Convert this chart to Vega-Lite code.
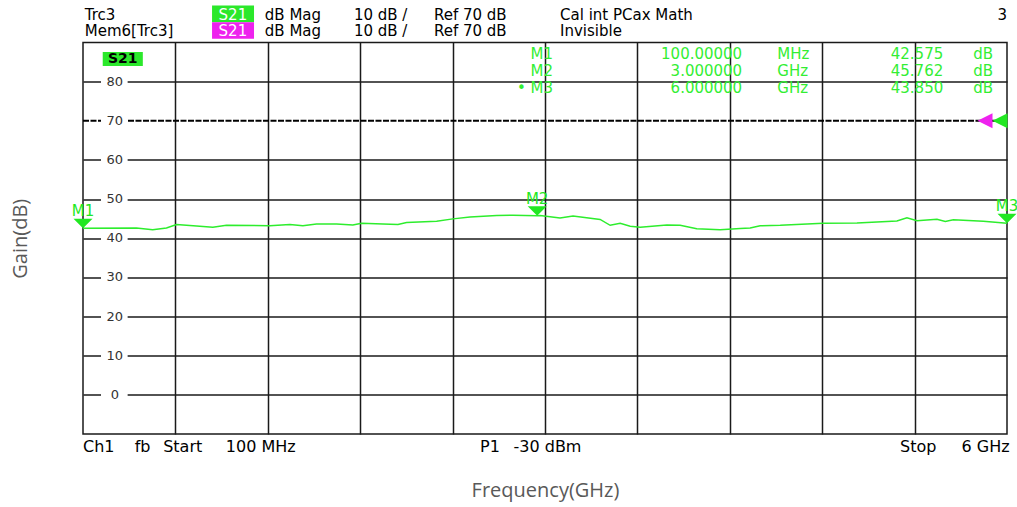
{
  "$schema": "https://vega.github.io/schema/vega-lite/v6.json",
  "width": 924,
  "height": 391.5,
  "autosize": "none",
  "padding": {"left": 83, "top": 42.5, "right": 10, "bottom": 73},
  "background": "white",
  "config": {"view": {"stroke": "#1a1a1a", "strokeWidth": 1.5}, "font": "DejaVu Sans"},
  "datasets": {
    "trace": [
      {"freq": 0.1, "gain": 42.575}, {"freq": 0.441, "gain": 42.6}, {"freq": 0.545, "gain": 42.2},
      {"freq": 0.633, "gain": 42.6}, {"freq": 0.697, "gain": 43.5}, {"freq": 0.825, "gain": 43.1},
      {"freq": 0.929, "gain": 42.8}, {"freq": 1.016, "gain": 43.3}, {"freq": 1.293, "gain": 43.2},
      {"freq": 1.421, "gain": 43.5}, {"freq": 1.504, "gain": 43.2}, {"freq": 1.591, "gain": 43.65},
      {"freq": 1.719, "gain": 43.65}, {"freq": 1.823, "gain": 43.4}, {"freq": 1.879, "gain": 43.8},
      {"freq": 2.015, "gain": 43.65}, {"freq": 2.111, "gain": 43.5}, {"freq": 2.166, "gain": 44.0},
      {"freq": 2.358, "gain": 44.35}, {"freq": 2.462, "gain": 44.95}, {"freq": 2.571, "gain": 45.4},
      {"freq": 2.742, "gain": 45.8}, {"freq": 2.846, "gain": 45.9}, {"freq": 3.0, "gain": 45.762},
      {"freq": 3.018, "gain": 45.8}, {"freq": 3.146, "gain": 45.2}, {"freq": 3.229, "gain": 45.65},
      {"freq": 3.402, "gain": 44.8}, {"freq": 3.466, "gain": 43.3}, {"freq": 3.53, "gain": 43.8},
      {"freq": 3.594, "gain": 43.05}, {"freq": 3.658, "gain": 42.8}, {"freq": 3.828, "gain": 43.4},
      {"freq": 3.913, "gain": 43.3}, {"freq": 4.019, "gain": 42.4}, {"freq": 4.168, "gain": 42.2},
      {"freq": 4.296, "gain": 42.5}, {"freq": 4.36, "gain": 42.6}, {"freq": 4.424, "gain": 43.2},
      {"freq": 4.552, "gain": 43.3}, {"freq": 4.826, "gain": 43.8}, {"freq": 5.042, "gain": 43.9},
      {"freq": 5.297, "gain": 44.4}, {"freq": 5.361, "gain": 45.2}, {"freq": 5.425, "gain": 44.5},
      {"freq": 5.553, "gain": 44.85}, {"freq": 5.606, "gain": 44.3}, {"freq": 5.657, "gain": 44.7},
      {"freq": 5.849, "gain": 44.35}, {"freq": 6.0, "gain": 43.85}
    ],
    "markers": [
      {"marker": "M1", "freq": 0.1, "gain": 42.575},
      {"marker": "M2", "freq": 3.0, "gain": 45.762},
      {"marker": "M3", "freq": 6.0, "gain": 43.85}
    ],
    "ticks": [
      {"gain": 0}, {"gain": 10}, {"gain": 20}, {"gain": 30}, {"gain": 40},
      {"gain": 50}, {"gain": 60}, {"gain": 70}, {"gain": 80}
    ]
  },
  "data": {"values": [{"note": "annotation"}]},
  "layer": [
    {
      "mark": {"type": "rule", "color": "#000000", "strokeWidth": 2, "strokeDash": [6, 1.5]},
      "encoding": {
        "x": {"datum": 0.1, "type": "quantitative",
          "scale": {"domain": [0.1, 6.0], "nice": false, "zero": false},
          "axis": {"values": [0.69, 1.28, 1.87, 2.46, 3.05, 3.64, 4.23, 4.82, 5.41],
            "grid": true, "gridColor": "#1a1a1a", "gridWidth": 1.5, "gridOpacity": 1,
            "labels": false, "ticks": false, "domain": false,
            "title": "Frequency(GHz)", "titleFont": "Open Sans", "titleFontSize": 20,
            "titleFontWeight": "normal", "titleColor": "#595959", "titlePadding": 46}},
        "x2": {"datum": 6.0},
        "y": {"datum": 70, "type": "quantitative",
          "scale": {"domain": [-10, 90], "nice": false, "zero": false},
          "axis": {"values": [0, 10, 20, 30, 40, 50, 60, 80],
            "grid": true, "gridColor": "#1a1a1a", "gridWidth": 1.5, "gridOpacity": 1,
            "labels": false, "ticks": false, "domain": false,
            "title": "Gain(dB)", "titleFont": "Open Sans", "titleFontSize": 20,
            "titleFontWeight": "normal", "titleColor": "#595959", "titlePadding": 53}}
      }
    },
    {
      "data": {"name": "ticks"},
      "mark": {"type": "rule", "color": "white", "strokeWidth": 5},
      "encoding": {
        "x": {"datum": 0.215, "type": "quantitative"},
        "x2": {"datum": 0.385},
        "y": {"field": "gain", "type": "quantitative", "title": "Gain(dB)"}
      }
    },
    {
      "data": {"name": "ticks"},
      "mark": {"type": "text", "font": "DejaVu Sans", "fontSize": 13, "color": "#333333", "align": "center", "baseline": "middle"},
      "encoding": {
        "x": {"datum": 0.303, "type": "quantitative"},
        "y": {"field": "gain", "type": "quantitative", "title": "Gain(dB)"},
        "text": {"field": "gain", "type": "quantitative"}
      }
    },
    {
      "mark": {"type": "rect", "color": "#2be82b"},
      "encoding": {
        "x": {"datum": 0.226, "type": "quantitative"}, "x2": {"datum": 0.482},
        "y": {"datum": 87.57, "type": "quantitative"}, "y2": {"datum": 84.0}
      }
    },
    {
      "mark": {"type": "text", "text": "S21", "fontSize": 14, "fontWeight": "bold", "color": "#000000", "align": "center", "baseline": "middle"},
      "encoding": {
        "x": {"datum": 0.354, "type": "quantitative"},
        "y": {"datum": 85.8, "type": "quantitative"}
      }
    },
    {
      "data": {"name": "trace"},
      "mark": {"type": "line", "color": "#2ded2d", "strokeWidth": 1.5},
      "encoding": {
        "x": {"field": "freq", "type": "quantitative", "title": "Frequency(GHz)"},
        "y": {"field": "gain", "type": "quantitative", "title": "Gain(dB)"}
      }
    },
    {
      "data": {"name": "markers"},
      "mark": {"type": "point", "shape": "M-1,-1L1,-1L0,0Z", "filled": true, "opacity": 1, "color": "#22e822", "size": 361},
      "encoding": {
        "x": {"field": "freq", "type": "quantitative", "title": "Frequency(GHz)"},
        "y": {"field": "gain", "type": "quantitative", "title": "Gain(dB)"}
      }
    },
    {
      "data": {"name": "markers"},
      "mark": {"type": "text", "fontSize": 15, "color": "#22e822", "align": "center", "baseline": "alphabetic", "yOffset": -12},
      "encoding": {
        "x": {"field": "freq", "type": "quantitative", "title": "Frequency(GHz)"},
        "y": {"field": "gain", "type": "quantitative", "title": "Gain(dB)"},
        "text": {"field": "marker", "type": "nominal"}
      }
    },
    {
      "mark": {"type": "point", "shape": "M-1,0L1,-1L1,1Z", "filled": true, "opacity": 1, "color": "#ee22ee", "size": 225, "xOffset": -22},
      "encoding": {
        "x": {"datum": 6.0, "type": "quantitative"},
        "y": {"datum": 70, "type": "quantitative"}
      }
    },
    {
      "mark": {"type": "point", "shape": "M-1,0L1,-1L1,1Z", "filled": true, "opacity": 1, "color": "#22e822", "size": 225, "xOffset": -7},
      "encoding": {
        "x": {"datum": 6.0, "type": "quantitative"},
        "y": {"datum": 70, "type": "quantitative"}
      }
    },
    {
      "mark": {"type": "text", "text": ["M1", "M2", "• M3"], "lineHeight": 17, "fontSize": 15, "color": "#33ee33", "align": "right", "baseline": "alphabetic"},
      "encoding": {"x": {"datum": 3.101, "type": "quantitative"}, "y": {"datum": 85.71, "type": "quantitative"}}
    },
    {
      "mark": {"type": "text", "text": ["100.00000", "3.000000", "6.000000"], "lineHeight": 17, "fontSize": 15, "color": "#33ee33", "align": "right", "baseline": "alphabetic"},
      "encoding": {"x": {"datum": 4.309, "type": "quantitative"}, "y": {"datum": 85.71, "type": "quantitative"}}
    },
    {
      "mark": {"type": "text", "text": ["MHz", "GHz", "GHz"], "lineHeight": 17, "fontSize": 15, "color": "#33ee33", "align": "left", "baseline": "alphabetic"},
      "encoding": {"x": {"datum": 4.533, "type": "quantitative"}, "y": {"datum": 85.71, "type": "quantitative"}}
    },
    {
      "mark": {"type": "text", "text": ["42.575", "45.762", "43.850"], "lineHeight": 17, "fontSize": 15, "color": "#33ee33", "align": "right", "baseline": "alphabetic"},
      "encoding": {"x": {"datum": 5.593, "type": "quantitative"}, "y": {"datum": 85.71, "type": "quantitative"}}
    },
    {
      "mark": {"type": "text", "text": ["dB", "dB", "dB"], "lineHeight": 17, "fontSize": 15, "color": "#33ee33", "align": "left", "baseline": "alphabetic"},
      "encoding": {"x": {"datum": 5.785, "type": "quantitative"}, "y": {"datum": 85.71, "type": "quantitative"}}
    },
    {
      "mark": {"type": "rect", "color": "#2be82b"},
      "encoding": {
        "x": {"datum": 0.924, "type": "quantitative"}, "x2": {"datum": 1.192},
        "y": {"datum": 99.48, "type": "quantitative"}, "y2": {"datum": 95.19}
      }
    },
    {
      "mark": {"type": "rect", "color": "#ee22ee"},
      "encoding": {
        "x": {"datum": 0.924, "type": "quantitative"}, "x2": {"datum": 1.192},
        "y": {"datum": 95.19, "type": "quantitative"}, "y2": {"datum": 90.97}
      }
    },
    {
      "mark": {"type": "text", "text": ["S21", "S21"], "lineHeight": 16.3, "fontSize": 15, "color": "#ffffff", "align": "center", "baseline": "alphabetic"},
      "encoding": {"x": {"datum": 1.057, "type": "quantitative"}, "y": {"datum": 95.82, "type": "quantitative"}}
    },
    {
      "mark": {"type": "text", "text": ["Trc3", "Mem6[Trc3]"], "lineHeight": 16.3, "fontSize": 15, "color": "#000000", "align": "left", "baseline": "alphabetic"},
      "encoding": {"x": {"datum": 0.111, "type": "quantitative"}, "y": {"datum": 95.82, "type": "quantitative"}}
    },
    {
      "mark": {"type": "text", "text": ["dB Mag", "dB Mag"], "lineHeight": 16.3, "fontSize": 15, "color": "#000000", "align": "left", "baseline": "alphabetic"},
      "encoding": {"x": {"datum": 1.261, "type": "quantitative"}, "y": {"datum": 95.82, "type": "quantitative"}}
    },
    {
      "mark": {"type": "text", "text": ["10 dB /", "10 dB /"], "lineHeight": 16.3, "fontSize": 15, "color": "#000000", "align": "left", "baseline": "alphabetic"},
      "encoding": {"x": {"datum": 1.83, "type": "quantitative"}, "y": {"datum": 95.82, "type": "quantitative"}}
    },
    {
      "mark": {"type": "text", "text": ["Ref 70 dB", "Ref 70 dB"], "lineHeight": 16.3, "fontSize": 15, "color": "#000000", "align": "left", "baseline": "alphabetic"},
      "encoding": {"x": {"datum": 2.341, "type": "quantitative"}, "y": {"datum": 95.82, "type": "quantitative"}}
    },
    {
      "mark": {"type": "text", "text": ["Cal int PCax Math", "Invisible"], "lineHeight": 16.3, "fontSize": 15, "color": "#000000", "align": "left", "baseline": "alphabetic"},
      "encoding": {"x": {"datum": 3.146, "type": "quantitative"}, "y": {"datum": 95.82, "type": "quantitative"}}
    },
    {
      "mark": {"type": "text", "text": "3", "fontSize": 15, "color": "#000000", "align": "right", "baseline": "alphabetic"},
      "encoding": {"x": {"datum": 6.0, "type": "quantitative"}, "y": {"datum": 95.82, "type": "quantitative"}}
    },
    {
      "mark": {"type": "text", "text": "Ch1", "fontSize": 16, "color": "#000000", "align": "left", "baseline": "alphabetic"},
      "encoding": {"x": {"datum": 0.1, "type": "quantitative"}, "y": {"datum": -14.7, "type": "quantitative"}}
    },
    {
      "mark": {"type": "text", "text": "fb", "fontSize": 16, "color": "#000000", "align": "left", "baseline": "alphabetic"},
      "encoding": {"x": {"datum": 0.43, "type": "quantitative"}, "y": {"datum": -14.7, "type": "quantitative"}}
    },
    {
      "mark": {"type": "text", "text": "Start", "fontSize": 16, "color": "#000000", "align": "left", "baseline": "alphabetic"},
      "encoding": {"x": {"datum": 0.612, "type": "quantitative"}, "y": {"datum": -14.7, "type": "quantitative"}}
    },
    {
      "mark": {"type": "text", "text": "100 MHz", "fontSize": 16, "color": "#000000", "align": "left", "baseline": "alphabetic"},
      "encoding": {"x": {"datum": 1.012, "type": "quantitative"}, "y": {"datum": -14.7, "type": "quantitative"}}
    },
    {
      "mark": {"type": "text", "text": "P1", "fontSize": 16, "color": "#000000", "align": "left", "baseline": "alphabetic"},
      "encoding": {"x": {"datum": 2.635, "type": "quantitative"}, "y": {"datum": -14.7, "type": "quantitative"}}
    },
    {
      "mark": {"type": "text", "text": "-30 dBm", "fontSize": 16, "color": "#000000", "align": "left", "baseline": "alphabetic"},
      "encoding": {"x": {"datum": 2.849, "type": "quantitative"}, "y": {"datum": -14.7, "type": "quantitative"}}
    },
    {
      "mark": {"type": "text", "text": "Stop", "fontSize": 16, "color": "#000000", "align": "right", "baseline": "alphabetic"},
      "encoding": {"x": {"datum": 5.549, "type": "quantitative"}, "y": {"datum": -14.7, "type": "quantitative"}}
    },
    {
      "mark": {"type": "text", "text": "6 GHz", "fontSize": 16, "color": "#000000", "align": "right", "baseline": "alphabetic"},
      "encoding": {"x": {"datum": 6.017, "type": "quantitative"}, "y": {"datum": -14.7, "type": "quantitative"}}
    }
  ]
}
